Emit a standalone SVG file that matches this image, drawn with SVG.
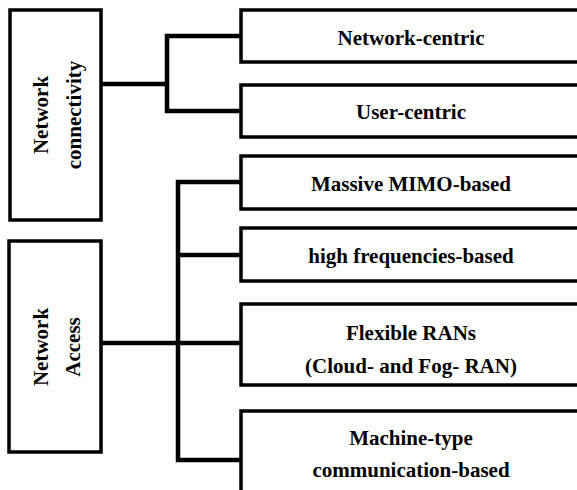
<svg xmlns="http://www.w3.org/2000/svg" width="577" height="490" viewBox="0 0 577 490">
<style>
.box{fill:#fff;stroke:#000;stroke-width:3.5}
.con{fill:none;stroke:#000;stroke-width:4.5;stroke-linejoin:miter;stroke-linecap:square}
.t{font-family:'Liberation Serif','Times New Roman',serif;font-weight:bold;font-size:21px;fill:#000;text-anchor:middle}
</style>
<rect width="577" height="490" fill="#fff"/>
<g id="connectors">
<path class="con" d="M101 84 H167 M240 36 H167 V111 H240"/>
<path class="con" d="M101 343 H240 M240 182 H178 V460 H240 M178 255 H240"/>
</g>
<g id="n-connectivity">
<rect class="box" x="10" y="10" width="91" height="210"/>
<text class="t" transform="translate(48,115) rotate(-90)">Network</text>
<text class="t" transform="translate(81,115) rotate(-90)">connectivity</text>
</g>
<g id="n-access">
<rect class="box" x="9" y="241" width="92" height="211"/>
<text class="t" transform="translate(48,347) rotate(-90)">Network</text>
<text class="t" transform="translate(80,347) rotate(-90)">Access</text>
</g>
<g id="n-network-centric">
<rect class="box" x="241" y="10" width="345" height="52"/>
<text class="t" x="411" y="45">Network-centric</text>
</g>
<g id="n-user-centric">
<rect class="box" x="241" y="85" width="345" height="52"/>
<text class="t" x="411" y="119">User-centric</text>
</g>
<g id="n-massive-mimo">
<rect class="box" x="241" y="156" width="345" height="53"/>
<text class="t" x="411" y="191">Massive MIMO-based</text>
</g>
<g id="n-high-freq">
<rect class="box" x="241" y="228" width="345" height="53"/>
<text class="t" x="411" y="263">high frequencies-based</text>
</g>
<g id="n-flexible-rans">
<rect class="box" x="241" y="304" width="345" height="81"/>
<text class="t" x="411" y="340">Flexible RANs</text>
<text class="t" x="411" y="373">(Cloud- and Fog- RAN)</text>
</g>
<g id="n-machine-type">
<rect class="box" x="241" y="411" width="345" height="95"/>
<text class="t" x="411" y="445">Machine-type</text>
<text class="t" x="411" y="477">communication-based</text>
</g>
</svg>
